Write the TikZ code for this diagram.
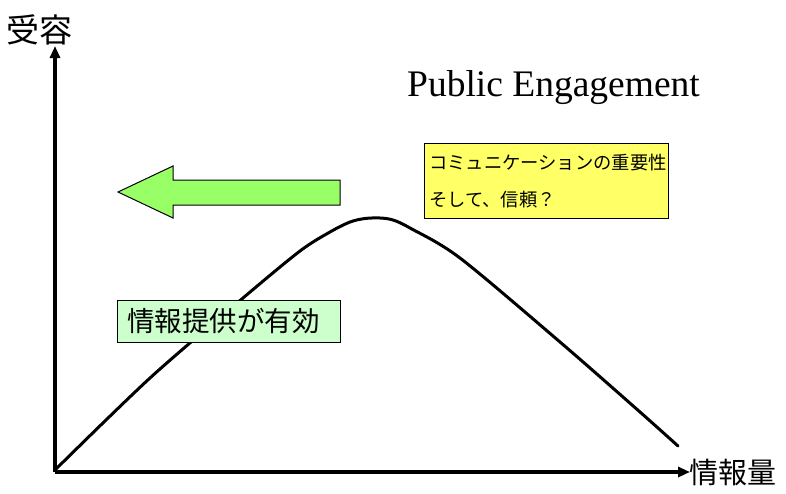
\documentclass[tikz,border=0pt]{standalone}
\usepackage{fontspec}
\setmainfont{Liberation Serif}
\newfontfamily\jp{Noto Sans CJK JP}
\usetikzlibrary{arrows.meta}
\definecolor{arrowgreen}{HTML}{99FF66}
\definecolor{boxgreen}{HTML}{CCFFCC}
\definecolor{boxyellow}{HTML}{FFFF66}
\tikzset{
  axis/.style={line width=3.5pt,-{Triangle[length=12pt,width=10pt]}},
  curveline/.style={line width=3pt,line join=round,line cap=round},
  notebox/.style={draw=black,line width=1pt,inner sep=0pt},
}
\begin{document}
\begin{tikzpicture}[x=1pt,y=-1pt]
\useasboundingbox (0,0) rectangle (786,493);
% axes
\coordinate (o) at (55,472);
\coordinate (ytop) at (55,46);
\coordinate (xend) at (690,472);
\draw[axis] (o) -- (ytop);
\draw[axis] (o) -- (xend);
\node[font=\jp\fontsize{33}{33}\selectfont,anchor=west,inner sep=0pt] (ylab) at (6,30) {受容};
\node[font=\jp\fontsize{29}{29}\selectfont,anchor=west,inner sep=0pt] (xlab) at (689,472) {情報量};
% curve
\draw[curveline] plot[smooth,tension=0.5] coordinates {(55,470) (150,378) (243,298) (300,251) (330,232) (350,222) (365,218.5) (380,218) (393,220) (410,228) (460,258) (560,342) (640,412) (678,446)};
% title
\node[font=\fontsize{37.5}{37.5}\selectfont,anchor=west,inner sep=0pt] (title) at (407,88) {Public Engagement};
% green arrow
\draw[fill=arrowgreen,line width=1pt,line join=miter] (340,180) -- (173,180) -- (173,166) -- (118,192) -- (173,218) -- (173,205) -- (340,205) -- cycle;
% yellow box
\node[notebox,fill=boxyellow,minimum width=244pt,minimum height=75pt,anchor=north west] (ybox) at (424,143) {};
\node[font=\jp\fontsize{18.3}{18.3}\selectfont,anchor=west,inner sep=0pt] (yt1) at (429,163) {コミュニケーションの重要性};
\node[font=\jp\fontsize{18.3}{18.3}\selectfont,anchor=west,inner sep=0pt] (yt2) at (429,200) {そして、信頼？};
% green box
\node[notebox,fill=boxgreen,minimum width=223pt,minimum height=42pt,anchor=north west] (gbox) at (117,300) {};
\node[font=\jp\fontsize{27.5}{27.5}\selectfont,anchor=west,inner sep=0pt] (gt) at (127,321) {情報提供が有効};
\end{tikzpicture}
\end{document}
